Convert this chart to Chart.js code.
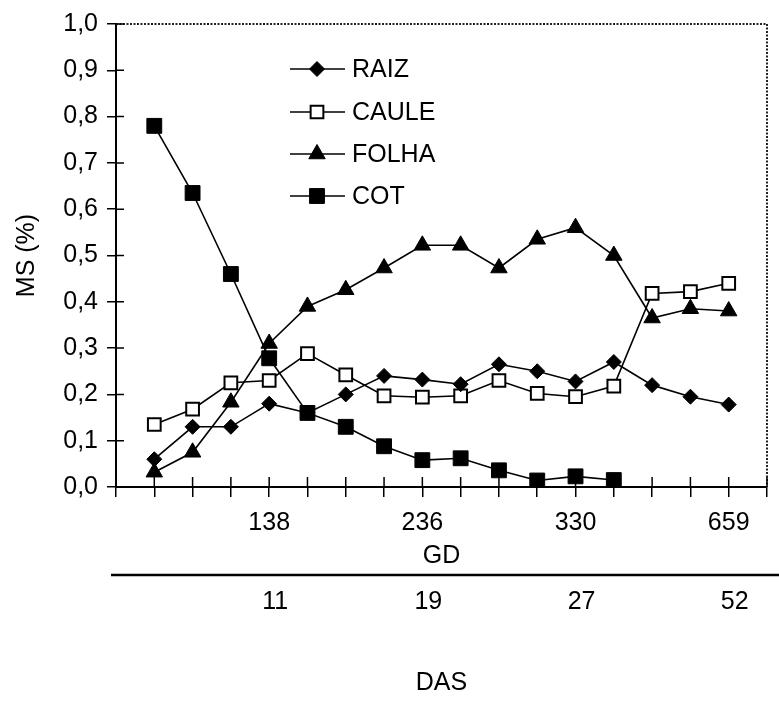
<!DOCTYPE html>
<html>
<head>
<meta charset="utf-8">
<script src="https://cdn.jsdelivr.net/npm/chart.js@4/dist/chart.umd.min.js"></script>
<style>
  body { margin: 0; background: #fff; }
  #wrap { width: 779px; height: 701px; }
</style>
</head>
<body>
<div id="wrap"><canvas id="myChart"></canvas></div>
<script>
// sampling points, one per harvest
const positions = [1, 2, 3, 4, 5, 6, 7, 8, 9, 10, 11, 12, 13, 14, 15, 16];
const gdLabels = { 4: "138", 8: "236", 12: "330", 16: "659" };
const dasLabels = { 4: "11", 8: "19", 12: "27", 16: "52" };

const raiz = [0.06, 0.13, 0.13, 0.18, 0.16, 0.20, 0.24, 0.232, 0.222, 0.265, 0.25, 0.228, 0.27, 0.22, 0.195, 0.178];
const caule = [0.135, 0.168, 0.225, 0.23, 0.288, 0.242, 0.197, 0.194, 0.197, 0.23, 0.202, 0.195, 0.218, 0.418, 0.422, 0.44];
const folha = [0.032, 0.075, 0.183, 0.31, 0.39, 0.426, 0.473, 0.522, 0.522, 0.473, 0.535, 0.56, 0.50, 0.365, 0.385, 0.38];
const cot = [0.78, 0.635, 0.46, 0.278, 0.16, 0.13, 0.088, 0.058, 0.062, 0.036, 0.014, 0.023, 0.015, null, null, null];

const FONT = "'Liberation Sans', Arial, Helvetica, sans-serif";

function toPoints(values) {
    return positions.map((x, i) => ({ x: x, y: values[i] }));
}

function series(label, values, style, radius, fill) {
    return {
        label: label,
        data: toPoints(values),
        borderColor: "#000",
        borderWidth: 1.6,
        pointStyle: style,
        pointRadius: radius,
        pointHoverRadius: radius,
        pointBackgroundColor: fill,
        pointBorderColor: "#000",
        pointBorderWidth: style === "rect" && fill === "#fff" ? 2 : 1,
        tension: 0
    };
}

const datasets = [
    series("RAIZ", raiz, "rectRot", 7.5, "#000"),
    series("CAULE", caule, "rect", 9, "#fff"),
    series("FOLHA", folha, "triangle", 9.5, "#000"),
    series("COT", cot, "rect", 10.5, "#000")
];

// draw a marker like the ones on the lines
function marker(ctx, ds, x, y) {
    const r = ds.pointRadius;
    ctx.save();
    ctx.fillStyle = ds.pointBackgroundColor;
    ctx.strokeStyle = "#000";
    ctx.lineWidth = ds.pointBorderWidth;
    ctx.beginPath();
    if (ds.pointStyle === "rectRot") {
        ctx.moveTo(x - r, y); ctx.lineTo(x, y - r); ctx.lineTo(x + r, y); ctx.lineTo(x, y + r);
    } else if (ds.pointStyle === "triangle") {
        ctx.moveTo(x, y - r);
        ctx.lineTo(x + r * Math.sqrt(3) / 2, y + r / 2);
        ctx.lineTo(x - r * Math.sqrt(3) / 2, y + r / 2);
    } else {
        const s = r * Math.SQRT1_2;
        ctx.rect(x - s, y - s, 2 * s, 2 * s);
    }
    ctx.closePath();
    ctx.fill();
    ctx.stroke();
    ctx.restore();
}

const framePlugin = {
    id: "frame",
    afterDraw(chart) {
        const ctx = chart.ctx;
        const a = chart.chartArea;
        const xs = chart.scales.x;
        const ys = chart.scales.y;
        ctx.save();
        // dotted top and right border
        ctx.strokeStyle = "#222";
        ctx.lineWidth = 2;
        ctx.setLineDash([2, 1.5]);
        ctx.beginPath();
        ctx.moveTo(a.left, a.top);
        ctx.lineTo(a.right, a.top);
        ctx.lineTo(a.right, a.bottom);
        ctx.stroke();
        ctx.setLineDash([]);

        // tick marks crossing into the plot
        ctx.strokeStyle = "#000";
        ctx.lineWidth = 1.5;
        ctx.beginPath();
        xs.ticks.forEach(t => {
            const px = xs.getPixelForValue(t.value);
            ctx.moveTo(px, a.bottom);
            ctx.lineTo(px, a.bottom - 10);
        });
        ys.ticks.forEach(t => {
            const py = ys.getPixelForValue(t.value);
            ctx.moveTo(a.left, py);
            ctx.lineTo(a.left + 8, py);
        });
        ctx.stroke();

        // separator line between GD and DAS
        ctx.lineWidth = 2.5;
        ctx.beginPath();
        ctx.moveTo(111, 575);
        ctx.lineTo(chart.width, 575);
        ctx.stroke();

        // legend inside the plot
        const rows = [69, 112, 154, 196];
        ctx.font = "25px " + FONT;
        ctx.textBaseline = "middle";
        ctx.fillStyle = "#000";
        chart.data.datasets.forEach((ds, i) => {
            const y = rows[i];
            ctx.lineWidth = 1.6;
            ctx.beginPath();
            ctx.moveTo(290, y);
            ctx.lineTo(345, y);
            ctx.stroke();
            marker(ctx, ds, 317, y);
            ctx.fillText(ds.label, 352, y + 1);
        });
        ctx.restore();
    }
};

const ctx = document.getElementById("myChart").getContext("2d");
new Chart(ctx, {
    type: "line",
    data: { datasets: datasets },
    options: {
        responsive: true,
        maintainAspectRatio: false,
        animation: false,
        layout: { padding: { top: 22, right: 2, left: 0, bottom: 0 } },
        plugins: {
            legend: { display: false },
            tooltip: { enabled: false }
        },
        scales: {
            x: {
                type: "linear",
                position: "bottom",
                weight: 0,
                min: 0,
                max: 17,
                afterFit: s => { s.height = 88; },
                border: { display: true, color: "#000", width: 2 },
                grid: { drawOnChartArea: false, drawTicks: true, tickLength: 10, color: "#000", lineWidth: 1.5 },
                ticks: {
                    stepSize: 1,
                    autoSkip: false,
                    maxRotation: 0,
                    padding: 11,
                    color: "#000",
                    font: { family: FONT, size: 25 },
                    callback: v => gdLabels[v] || ""
                },
                title: { display: true, text: "GD", color: "#000", font: { family: FONT, size: 25 }, padding: { top: 0, bottom: 4 } }
            },
            x2: {
                type: "linear",
                position: "bottom",
                weight: 1,
                min: 0,
                max: 17,
                afterFit: s => { s.height = 126; },
                border: { display: false },
                grid: { display: false, drawTicks: false },
                ticks: {
                    stepSize: 1,
                    autoSkip: false,
                    maxRotation: 0,
                    padding: 12,
                    labelOffset: 6,
                    color: "#000",
                    font: { family: FONT, size: 25 },
                    callback: v => dasLabels[v] || ""
                },
                title: { display: true, text: "DAS", color: "#000", font: { family: FONT, size: 25 }, padding: { top: 0, bottom: 3 } }
            },
            y: {
                min: 0,
                max: 1,
                afterFit: s => { s.width = 116; },
                border: { display: true, color: "#000", width: 2 },
                grid: { drawOnChartArea: false, drawTicks: true, tickLength: 9, color: "#000", lineWidth: 1.5 },
                ticks: {
                    stepSize: 0.1,
                    padding: 9,
                    color: "#000",
                    font: { family: FONT, size: 25 },
                    callback: v => v.toFixed(1).replace(".", ",")
                },
                title: { display: true, text: "MS (%)", color: "#000", font: { family: FONT, size: 25 }, padding: { top: 12, bottom: 0 } }
            }
        }
    },
    plugins: [framePlugin]
});
</script>
</body>
</html>
